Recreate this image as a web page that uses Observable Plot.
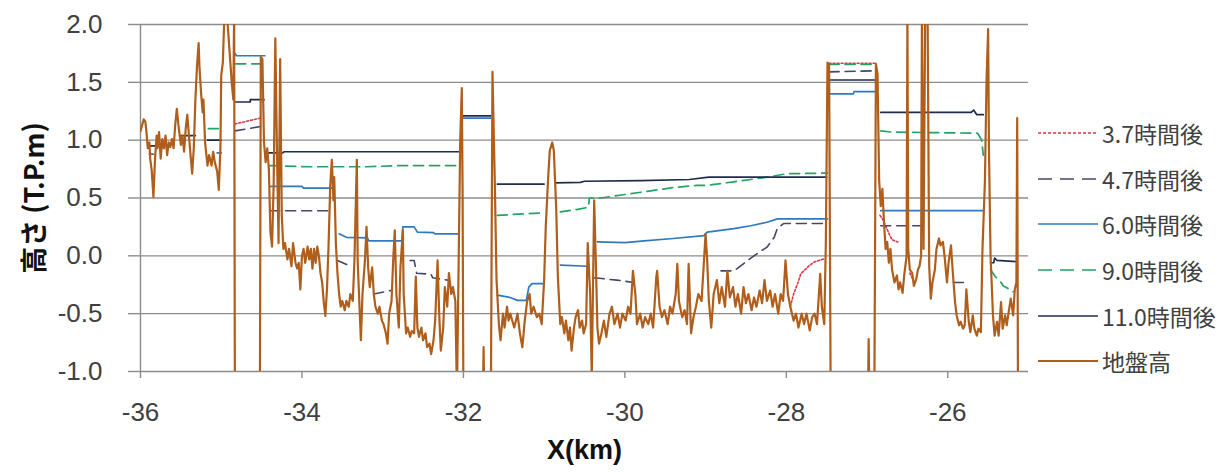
<!DOCTYPE html>
<html><head><meta charset="utf-8">
<script src="https://cdn.jsdelivr.net/npm/d3@7"></script>
<script src="https://cdn.jsdelivr.net/npm/@observablehq/plot@0.6"></script>
<style>
body{margin:0;background:#fff;}
#wrap{position:relative;width:1221px;height:472px;overflow:hidden;background:#fff;}
#legend{position:absolute;left:1038px;top:110px;font-family:"Noto Sans CJK JP","Liberation Sans",sans-serif;font-size:23px;color:#404040;}
.row{display:flex;align-items:center;height:45.7px;white-space:nowrap;}
.row svg{width:60px;height:10px;margin-right:4px;flex:none;}
</style></head><body><div id="wrap"><div id="legend"></div></div>
<script>
const xTicks = [-36, -34, -32, -30, -28, -26];
const yTicks = [-1, -0.5, 0, 0.5, 1, 1.5, 2];
const yTitle = ["高さ (T.P.m)"];
const xTitle = ["X(km)"];
const seriesNames = ["3.7時間後", "4.7時間後", "6.0時間後", "9.0時間後", "11.0時間後", "地盤高"];
const seriesColors = ["#e0354a", "#45456f", "#2f79bd", "#23a462", "#1f2c4c", "#b05e1c"];
const seriesDash = ["2,2", "10,6", null, "10,6", null, null];
const seriesWidth = [1.6, 1.6, 1.7, 1.7, 1.7, 2.2];

// [km, T.P.m]; null = no water
const h37 = [
  [-34.83,1.14],[-34.52,1.19],[-34.50,null],
  [-27.95,-0.44],[-27.91,-0.33],[-27.86,-0.24],[-27.82,-0.155],[-27.74,-0.10],[-27.66,-0.055],[-27.53,-0.025],[-27.50,null],
  [-27.47,1.665],[-26.90,1.665],[-26.88,null],
  [-26.84,0.35],[-26.80,0.31],[-26.77,0.26],[-26.72,0.18],[-26.69,0.14],[-26.62,0.12],[-26.55,null],
  [-26.47,-0.15],[-26.42,-0.22]
];
const h47 = [
  [-34.83,1.08],[-34.66,1.10],[-34.50,1.12],[-34.45,null],
  [-34.40,0.39],[-33.68,0.39],[-33.65,null],
  [-33.56,-0.04],[-33.43,-0.08],[-33.40,null],
  [-33.11,-0.33],[-32.90,-0.30],[-32.85,null],
  [-32.66,-0.04],[-32.61,-0.04],[-32.58,-0.15],[-32.40,-0.16],[-32.38,-0.19],[-32.20,-0.21],[-32.15,null],
  [-30.38,-0.19],[-30.10,-0.21],[-29.89,-0.23],[-29.85,null],
  [-28.81,-0.13],[-28.65,-0.13],[-28.61,-0.11],[-28.44,-0.02],[-28.36,0.02],[-28.24,0.075],[-28.15,0.16],[-28.11,0.24],[-28.03,0.28],[-27.51,0.28],[-27.50,null],
  [-27.47,1.59],[-26.90,1.60],[-26.88,null],
  [-26.83,0.26],[-26.30,0.26],[-26.28,null],
  [-25.93,-0.23],[-25.80,-0.23]
];
const h60 = [
  [-35.89,0.88],[-35.84,0.88],[-35.80,null],
  [-35.05,0.89],[-35.00,0.89],[-34.95,null],
  [-34.83,1.75],[-34.81,1.73],[-34.46,1.73],[-34.44,null],
  [-34.40,0.60],[-34.00,0.60],[-33.98,0.585],[-33.62,0.585],[-33.60,null],
  [-33.54,0.19],[-33.45,0.16],[-33.19,0.155],[-33.17,0.13],[-32.76,0.13],[-32.75,0.25],[-32.61,0.25],[-32.57,0.205],[-32.37,0.20],[-32.35,0.19],[-32.06,0.19],[-32.04,null],
  [-32.00,1.19],[-31.66,1.19],[-31.63,null],
  [-31.58,-0.34],[-31.42,-0.36],[-31.33,-0.385],[-31.22,-0.385],[-31.19,-0.27],[-31.15,-0.24],[-31.00,-0.24],[-30.98,null],
  [-30.80,-0.08],[-30.46,-0.09],[-30.44,null],
  [-30.34,0.12],[-30.00,0.115],[-29.76,0.13],[-29.40,0.15],[-29.02,0.175],[-28.98,0.205],[-28.65,0.235],[-28.44,0.26],[-28.24,0.29],[-28.11,0.32],[-27.49,0.32],[-27.48,null],
  [-27.47,1.40],[-27.17,1.40],[-27.16,1.42],[-26.90,1.42],[-26.88,null],
  [-26.83,0.39],[-25.57,0.39]
];
const h90 = [
  [-35.16,1.10],[-35.01,1.10],[-34.99,null],
  [-34.82,1.66],[-34.46,1.66],[-34.44,null],
  [-34.40,0.78],[-33.90,0.77],[-33.20,0.77],[-32.80,0.78],[-32.06,0.78],[-32.04,null],
  [-31.58,0.35],[-31.20,0.365],[-31.00,0.37],[-30.98,null],
  [-30.80,0.38],[-30.60,0.40],[-30.45,0.42],[-30.44,0.50],[-30.30,0.50],[-30.00,0.53],[-29.70,0.56],[-29.40,0.59],[-29.10,0.61],[-28.98,0.61],[-28.65,0.64],[-28.24,0.68],[-27.99,0.71],[-27.49,0.715],[-27.48,null],
  [-27.47,1.655],[-26.90,1.655],[-26.88,null],
  [-26.83,1.08],[-26.70,1.07],[-25.63,1.06],[-25.58,1.00],[-25.56,0.87],[-25.52,null],
  [-25.47,-0.12],[-25.41,-0.18],[-25.34,-0.23],[-25.31,-0.26],[-25.26,-0.28],[-25.19,-0.31]
];
const h110 = [
  [-35.90,0.95],[-35.80,0.95],[-35.78,null],
  [-35.50,1.04],[-35.32,1.04],[-35.30,null],
  [-35.17,1.00],[-35.00,1.00],[-34.98,null],
  [-34.82,1.33],[-34.64,1.33],[-34.64,1.35],[-34.47,1.35],[-34.45,null],
  [-34.41,0.89],[-34.24,0.89],[-34.22,0.90],[-32.06,0.90],[-32.04,null],
  [-32.00,1.21],[-31.66,1.21],[-31.63,null],
  [-31.58,0.62],[-31.00,0.62],[-30.98,null],
  [-30.86,0.63],[-30.55,0.635],[-30.50,0.645],[-29.80,0.65],[-29.20,0.66],[-28.96,0.68],[-27.50,0.68],[-27.48,null],
  [-27.47,1.52],[-26.89,1.52],[-26.87,null],
  [-26.83,1.24],[-25.71,1.24],[-25.68,1.26],[-25.64,1.22],[-25.56,1.22],[-25.52,null],
  [-25.47,-0.06],[-25.43,-0.06],[-25.42,-0.02],[-25.39,-0.04],[-25.15,-0.05]
];
const ground = [
  [-36.00,1.08],[-35.98,1.13],[-35.96,1.18],[-35.94,1.16],[-35.93,1.10],[-35.91,0.93],[-35.89,0.98],[-35.88,0.84],[-35.86,0.73],[-35.84,0.51],[-35.82,0.84],[-35.80,1.04],[-35.79,0.93],[-35.77,1.07],[-35.75,0.84],[-35.73,1.01],[-35.71,0.93],[-35.69,1.04],[-35.67,0.87],[-35.65,0.98],[-35.63,0.94],[-35.61,1.01],[-35.59,0.93],[-35.57,1.13],[-35.55,1.27],[-35.53,1.13],[-35.50,0.96],[-35.48,1.04],[-35.46,0.90],[-35.44,1.10],[-35.42,1.22],[-35.40,1.04],[-35.38,0.87],[-35.36,0.71],[-35.34,0.93],[-35.32,1.35],[-35.30,1.64],[-35.28,1.84],[-35.27,1.64],[-35.25,1.41],[-35.23,1.24],[-35.22,1.35],[-35.20,0.98],[-35.17,0.78],[-35.15,0.87],[-35.12,0.78],[-35.10,0.90],[-35.08,0.81],[-35.05,0.73],[-35.03,0.57],[-35.01,0.93],[-35.00,1.56],[-34.98,1.67],[-34.96,2.1],[-34.93,2.1],[-34.89,1.70],[-34.87,1.50],[-34.85,1.35],[-34.84,2.1],[-34.83,-1.5],
  [-34.53,-1.5],[-34.52,-0.95],[-34.51,1.72],[-34.49,1.70],[-34.47,0.98],[-34.45,0.81],[-34.43,0.93],[-34.41,0.75],[-34.39,0.20],[-34.37,0.08],[-34.35,0.64],[-34.33,1.88],[-34.31,0.93],[-34.29,0.11],[-34.27,1.70],[-34.25,0.35],[-34.23,0.06],[-34.21,0.11],[-34.18,-0.03],[-34.16,0.06],[-34.13,-0.09],[-34.11,0.11],[-34.08,-0.06],[-34.06,-0.11],[-34.04,-0.06],[-34.02,-0.29],[-34.00,0.00],[-33.98,0.06],[-33.96,-0.06],[-33.93,0.08],[-33.91,-0.03],[-33.89,0.06],[-33.87,-0.11],[-33.85,0.06],[-33.83,-0.06],[-33.81,0.08],[-33.79,0.00],[-33.77,-0.15],[-33.75,-0.23],[-33.73,-0.40],[-33.71,-0.52],[-33.69,-0.29],[-33.67,0.10],[-33.65,0.60],[-33.63,0.83],[-33.61,0.48],[-33.60,0.68],[-33.58,0.11],[-33.56,-0.15],
  [-33.54,-0.33],[-33.52,-0.44],[-33.50,-0.39],[-33.47,-0.47],[-33.45,-0.39],[-33.42,-0.44],[-33.40,-0.33],[-33.37,-0.39],[-33.35,-0.04],[-33.32,0.83],[-33.31,-0.04],[-33.27,-0.73],[-33.25,-0.33],[-33.22,-0.04],[-33.20,0.25],[-33.18,-0.10],[-33.16,-0.27],[-33.13,-0.10],[-33.11,-0.33],[-33.09,-0.44],[-33.06,-0.50],[-33.04,-0.44],[-33.01,-0.56],[-32.99,-0.59],[-32.96,-0.67],[-32.94,-0.76],[-32.92,-0.50],[-32.89,-0.39],[-32.87,-0.04],[-32.85,0.22],[-32.83,-0.33],[-32.80,-0.62],[-32.78,-0.10],[-32.75,0.22],[-32.74,-0.33],[-32.71,-0.67],[-32.69,-0.62],[-32.66,-0.70],[-32.64,-0.65],[-32.61,-0.67],[-32.59,-0.18],[-32.57,-0.62],[-32.55,-0.70],[-32.52,-0.62],[-32.50,-0.73],[-32.47,-0.67],[-32.45,-0.79],[-32.42,-0.76],[-32.40,-0.85],[-32.37,-0.73],[-32.35,-0.56],[-32.32,-0.04],[-32.30,-0.50],[-32.28,-0.82],[-32.25,-0.62],[-32.23,-0.27],[-32.20,-0.44],[-32.18,-0.15],[-32.15,-0.33],[-32.13,-0.27],[-32.10,-0.39],[-32.08,-1.2],[-32.04,0.98],[-32.02,1.45],[-32.01,0.54],[-32.00,-1.3],
  [-31.76,-1.3],[-31.75,-0.79],[-31.74,-1.3],[-31.66,-1.3],[-31.64,1.59],[-31.61,0.60],[-31.59,-0.20],[-31.56,-0.60],[-31.54,-0.73],[-31.51,-0.50],[-31.49,-0.62],[-31.46,-0.44],[-31.44,-0.56],[-31.42,-0.50],[-31.37,-0.62],[-31.33,-0.50],[-31.30,-0.67],[-31.27,-0.79],[-31.24,-0.56],[-31.21,-0.39],[-31.18,-0.33],[-31.16,-0.50],[-31.13,-0.44],[-31.09,-0.53],[-31.06,-0.50],[-31.03,-0.59],[-31.00,-0.21],[-30.98,0.25],[-30.95,0.68],[-30.93,0.91],[-30.90,0.98],[-30.88,0.91],[-30.85,0.40],[-30.83,-0.18],[-30.80,-0.59],[-30.78,-0.53],[-30.75,-0.67],[-30.73,-0.56],[-30.70,-0.73],[-30.68,-0.62],[-30.66,-0.82],[-30.63,-0.62],[-30.61,-0.53],[-30.58,-0.47],[-30.56,-0.62],[-30.53,-0.56],[-30.51,-0.67],[-30.48,-0.59],[-30.46,0.11],[-30.43,-0.33],[-30.41,-1.05],[-30.38,0.48],[-30.36,-0.04],[-30.34,-0.62],[-30.32,-0.76],[-30.29,-0.67],[-30.26,-0.56],[-30.23,-0.70],[-30.19,-0.50],[-30.16,-0.44],[-30.13,-0.59],[-30.09,-0.50],[-30.06,-0.62],[-30.03,-0.50],[-29.99,-0.56],[-29.96,-0.44],[-29.93,-0.50],[-29.90,-0.13],[-29.87,-0.33],[-29.85,-0.59],[-29.81,-0.50],[-29.78,-0.62],[-29.75,-0.53],[-29.71,-0.59],[-29.68,-0.50],[-29.65,-0.62],[-29.61,-0.18],[-29.60,-0.13],[-29.57,-0.44],[-29.54,-0.53],[-29.51,-0.47],[-29.47,-0.59],[-29.44,-0.44],[-29.41,-0.50],[-29.37,-0.33],[-29.35,-0.07],[-29.33,-0.39],[-29.29,-0.53],[-29.26,-0.47],[-29.23,-0.59],[-29.21,-0.07],[-29.18,-0.67],[-29.15,-0.53],[-29.12,-0.44],[-29.09,-0.33],[-29.05,-0.39],[-29.02,-0.04],[-29.00,0.19],[-28.98,-0.04],
  [-28.96,-0.39],[-28.93,-0.62],[-28.90,-0.33],[-28.86,-0.21],[-28.83,-0.41],[-28.80,-0.27],[-28.76,-0.44],[-28.73,-0.13],[-28.70,-0.36],[-28.66,-0.27],[-28.63,-0.44],[-28.60,-0.33],[-28.56,-0.50],[-28.53,-0.27],[-28.50,-0.41],[-28.47,-0.33],[-28.43,-0.47],[-28.40,-0.36],[-28.37,-0.44],[-28.33,-0.30],[-28.30,-0.41],[-28.27,-0.21],[-28.24,-0.39],[-28.20,-0.30],[-28.17,-0.44],[-28.14,-0.33],[-28.10,-0.50],[-28.07,-0.33],[-28.04,-0.39],[-28.01,-0.04],[-27.98,-0.33],[-27.95,-0.44],[-27.91,-0.56],[-27.88,-0.50],[-27.85,-0.62],[-27.81,-0.50],[-27.78,-0.59],[-27.75,-0.50],[-27.71,-0.645],[-27.68,-0.53],[-27.65,-0.50],[-27.62,-0.59],[-27.58,-0.155],[-27.56,-0.44],[-27.53,-0.59],[-27.51,0.13],[-27.49,1.67],[-27.47,1.66],[-27.45,-1.3],
  [-26.99,-1.3],[-26.98,-0.72],[-26.97,-1.3],[-26.91,-1.3],[-26.89,1.66],[-26.87,1.57],[-26.85,0.65],[-26.83,0.43],[-26.81,0.58],[-26.79,0.29],[-26.77,0.06],[-26.75,0.12],[-26.73,-0.06],[-26.71,0.06],[-26.69,-0.12],[-26.66,-0.23],[-26.63,-0.17],[-26.61,-0.29],[-26.59,-0.23],[-26.56,-0.32],[-26.54,-0.17],[-26.51,0.00],[-26.50,2.1],[-26.49,0.06],[-26.47,-0.12],[-26.44,-0.15],[-26.42,-0.26],[-26.39,-0.20],[-26.37,-0.12],[-26.35,-0.09],[-26.33,0.00],[-26.32,2.1],[-26.30,0.06],[-26.28,2.1],[-26.25,2.1],[-26.23,-0.09],[-26.21,-0.37],[-26.19,-0.23],[-26.16,-0.12],[-26.14,0.06],[-26.11,0.15],[-26.09,0.09],[-26.06,0.12],[-26.04,0.00],[-26.01,-0.23],[-25.99,-0.06],[-25.96,0.09],[-25.94,-0.12],[-25.91,-0.40],[-25.89,-0.515],[-25.86,-0.60],[-25.84,-0.57],[-25.81,-0.63],[-25.79,-0.60],[-25.77,-0.29],[-25.74,-0.57],[-25.72,-0.66],[-25.69,-0.515],[-25.67,-0.63],[-25.64,-0.69],[-25.62,-0.63],[-25.59,-0.66],[-25.57,0.06],[-25.54,0.64],[-25.52,1.51],[-25.50,1.96],[-25.49,0.93],[-25.47,0.00],[-25.44,-0.515],[-25.42,-0.69],[-25.39,-0.57],[-25.37,-0.69],[-25.34,-0.40],[-25.32,-0.63],[-25.29,-0.515],[-25.27,-0.60],[-25.24,-0.46],[-25.22,-0.37],[-25.19,-0.515],[-25.17,-0.29],[-25.15,-0.23],[-25.14,1.19],[-25.13,-1.3]
];

const seriesData = [h37, h47, h60, h90, h110, ground];
const grid = "#8c8c8c";

const lines = seriesData.map((data, i) => Plot.line(data, {
  x: d => d[0], y: d => d[1],
  stroke: seriesColors[i], strokeWidth: seriesWidth[i],
  strokeDasharray: seriesDash[i] || undefined,
  strokeLinejoin: "round", clip: true
}));

const chart = Plot.plot({
  width: 1221, height: 472,
  marginLeft: 140, marginRight: 193, marginTop: 24, marginBottom: 101,
  x: {domain: [-36, -25]},
  y: {domain: [-1, 2]},
  style: {fontFamily: "'Liberation Sans', Arial, sans-serif", fontSize: "26px", color: "#404040", background: "transparent", overflow: "visible"},
  marks: [
    Plot.ruleY(yTicks, {stroke: grid, strokeWidth: 1.4}),
    Plot.ruleX([-36], {stroke: grid, strokeWidth: 1.4}),
    Plot.axisY({ticks: yTicks, tickSize: 12, tickPadding: 26, tickFormat: d => d.toFixed(1), stroke: grid, strokeWidth: 1.4, fill: "#404040", label: null}),
    Plot.axisX({ticks: xTicks, tickSize: 7, tickPadding: 24, tickFormat: d => String(d), stroke: grid, strokeWidth: 1.4, fill: "#404040", label: null}),
    ...lines,
    Plot.text(yTitle, {text: d => d, frameAnchor: "left", textAnchor: "middle", dx: -105, rotate: -90, fontWeight: "bold", fontSize: 27, fill: "#111", fontFamily: "'Noto Sans CJK JP', sans-serif"}),
    Plot.text(xTitle, {text: d => d, frameAnchor: "bottom", dy: 87, fontWeight: "bold", fontSize: 27, fill: "#111"})
  ]
});
document.getElementById("wrap").prepend(chart);

const legend = document.getElementById("legend");
seriesNames.forEach((name, i) => {
  const row = document.createElement("div");
  row.className = "row";
  const dash = seriesDash[i] ? `stroke-dasharray="${i === 0 ? "3,2" : "14,8"}"` : "";
  row.innerHTML = `<svg viewBox="0 0 60 10"><line x1="0" y1="5" x2="60" y2="5" stroke="${seriesColors[i]}" stroke-width="${seriesWidth[i]}" ${dash}/></svg><span>${name}</span>`;
  legend.appendChild(row);
});
</script></body></html>
